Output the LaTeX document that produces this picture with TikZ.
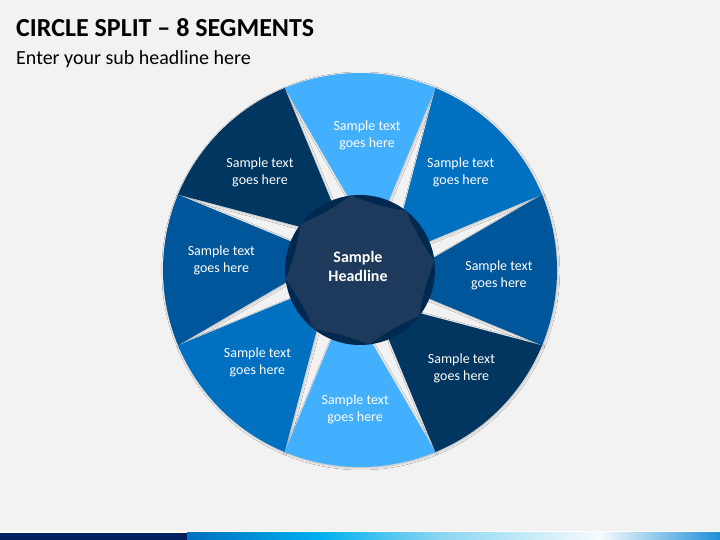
\documentclass[tikz,border=0pt]{standalone}
\usepackage{fontspec}
\setmainfont{Carlito}
\usetikzlibrary{calc,shadows.blur}
\definecolor{bgGray}{HTML}{F2F2F2}
\definecolor{segL}{RGB}{66,175,255}
\definecolor{segC}{HTML}{0070C0}
\definecolor{segB}{RGB}{0,86,154}
\definecolor{segD}{RGB}{0,54,96}
\definecolor{hubRing}{RGB}{0,41,80}
\definecolor{hubCore}{RGB}{29,58,92}
\definecolor{barNavy}{RGB}{0,32,96}
\definecolor{barA}{HTML}{0070C0}
\definecolor{barB}{HTML}{00B0F0}
\definecolor{barC}{HTML}{8AD6F2}
\definecolor{barD}{HTML}{F7FBFE}
\definecolor{barE}{HTML}{1E8FD8}
\pgfdeclarehorizontalshading{barshade}{100bp}{color(0bp)=(barA); color(25bp)=(barA); color(37.5bp)=(barB); color(48.7bp)=(barC); color(63.7bp)=(barD); color(75bp)=(barE); color(100bp)=(barE)}
\begin{document}
\begin{tikzpicture}[x=1pt,y=1pt,
	segtext/.style={text=white,align=center,font=\fontsize{14}{17}\selectfont},
	hubtext/.style={text=white,align=center,font=\bfseries\fontsize{16}{19}\selectfont}]
	\def\R{197}  % outer radius
	\def\r{70}   % inner end of the segments
	\def\h{75}   % hub radius
	\fill[bgGray] (0,0) rectangle (720,540);
	\useasboundingbox (0,0) rectangle (720,540);
	\coordinate (O) at (360,270);
	% shadows first, then the segments
	\foreach \a in {0,45,...,315}
	\path[blur shadow={shadow xshift=.8pt,shadow yshift=-1pt,shadow blur radius=2pt,shadow opacity=22}]
	($(O)+(\a-22.5:\R)$) arc[start angle=\a-22.5,end angle=\a+22.5,radius=\R]
	-- ($(O)+(\a+8:\r)$) -- ($(O)+(\a-22.5:\r)$) -- cycle;
	\foreach \a/\c in {0/segB,45/segC,90/segL,135/segD,180/segB,225/segC,270/segL,315/segD}
	\fill[\c]
	($(O)+(\a-22.5:\R)$) arc[start angle=\a-22.5,end angle=\a+22.5,radius=\R]
	-- ($(O)+(\a+8:\r)$) -- ($(O)+(\a-22.5:\r)$) -- cycle;
	% hub
	\fill[hubRing] (O) circle (\h);
	\fill[hubCore] ($(O)+(7:\h)$)
	\foreach \b in {52,97,...,367} { to[bend left=6] ($(O)+(\b:\h)$) } -- cycle;
	\foreach \p/\d[count=\i] in {-2/139,44/140,87/135,135.6/140,176/139,222/138,268/139,316/141}
	\node[segtext] (t\i) at ($(O)+(\p:\d)$) {Sample text\\goes here};
	\node[hubtext] (hub) at ($(O)+(-2,4)$) {Sample\\Headline};
	% headings
	\node[anchor=base west,inner sep=0,font=\bfseries\fontsize{26}{30}\selectfont] (title) at (16,503) {CIRCLE SPLIT – 8 SEGMENTS};
	\node[anchor=base west,inner sep=0,font=\fontsize{20}{24}\selectfont] (sub) at (16,475) {Enter your sub headline here};
	% bar
	\fill[white] (0,7) rectangle (720,8.5);
	\fill[barNavy] (0,0) rectangle (187,7);
	\shade[shading=barshade] (187,0) rectangle (720,7);
\end{tikzpicture}
\end{document}
